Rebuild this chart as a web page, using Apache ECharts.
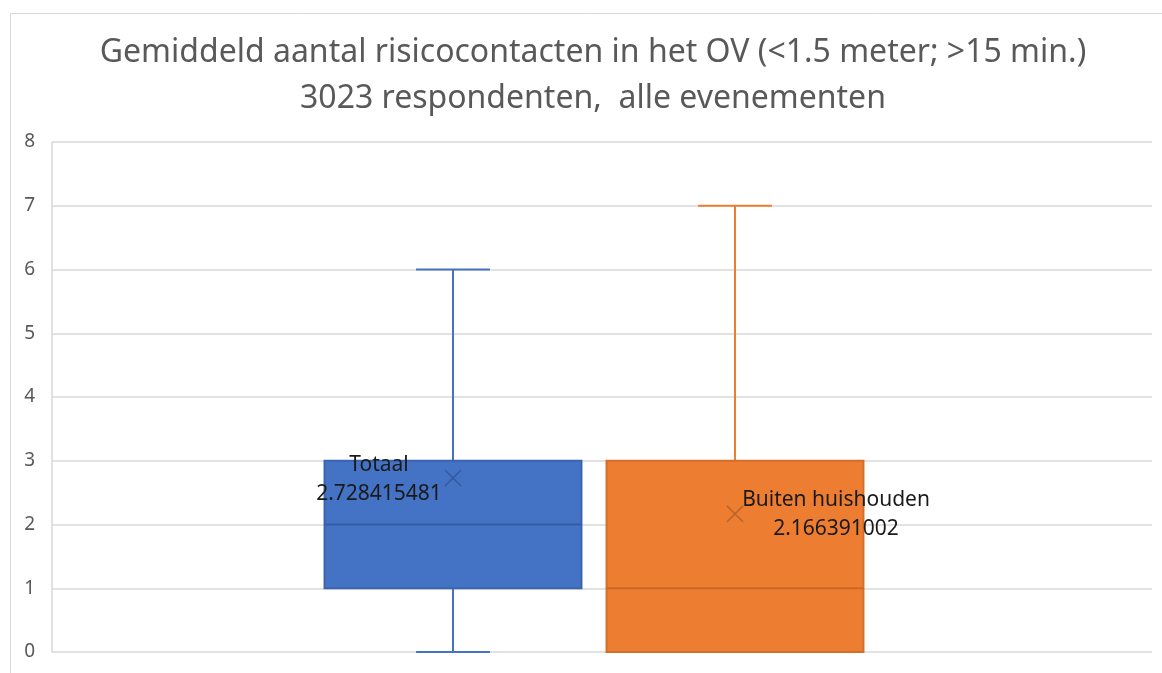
<!DOCTYPE html>
<html>
<head>
<meta charset="utf-8">
<script src="https://cdn.jsdelivr.net/npm/echarts@6/dist/echarts.min.js"></script>
<style>
  html, body { margin: 0; padding: 0; background: #fff; }
  #chart { width: 1162px; height: 673px; }
</style>
</head>
<body>
<div id="chart"></div>
<script>
// Box-and-whisker values
const categories = ["Totaal", "Buiten huishouden"];
const minValues = [0, 0];
const q1Values = [1, 0];
const medianValues = [2, 1];
const q3Values = [3, 3];
const maxValues = [6, 7];
const meanValues = [2.728415481, 2.166391002];

const titleLines = [
  "Gemiddeld aantal risicocontacten in het OV (<1.5 meter; >15 min.)",
  "3023 respondenten,  alle evenementen",
];

// styling only
const fills = ["#4472C4", "#ED7D31"];
const strokes = ["#3A64B0", "#D46E2A"];
const medianStrokes = ["#355CA3", "#C8692A"];
const meanStrokes = ["#35599A", "#B9652B"];
const labelOffsets = [[-74, 1], [101, 1]];

const FONT = "'Noto Sans', 'Open Sans', sans-serif";

const boxData = categories.map((name, i) => [
  i, minValues[i], q1Values[i], medianValues[i], q3Values[i], maxValues[i], meanValues[i],
]);

function renderBox(params, api) {
  const i = api.value(0);
  const band = api.size([1, 0])[0];
  const boxW = band * 0.911;
  const capW = band * 0.262;
  const cx = api.coord([i, 0])[0];
  const yMin = api.coord([i, api.value(1)])[1];
  const yQ1 = api.coord([i, api.value(2)])[1];
  const yMed = api.coord([i, api.value(3)])[1];
  const yQ3 = api.coord([i, api.value(4)])[1];
  const yMax = api.coord([i, api.value(5)])[1];
  const mean = api.value(6);
  const yMean = api.coord([i, mean])[1];
  const stroke = strokes[i];
  const ms = 8;
  const off = labelOffsets[i];
  const whisker = { stroke: fills[i], lineWidth: 2 };
  return {
    type: "group",
    children: [
      { type: "line", shape: { x1: cx, y1: yQ3, x2: cx, y2: yMax }, style: whisker },
      { type: "line", shape: { x1: cx, y1: yQ1, x2: cx, y2: yMin }, style: whisker },
      { type: "line", shape: { x1: cx - capW / 2, y1: yMax, x2: cx + capW / 2, y2: yMax }, style: whisker },
      { type: "line", shape: { x1: cx - capW / 2, y1: yMin, x2: cx + capW / 2, y2: yMin }, style: whisker },
      {
        type: "rect",
        shape: { x: cx - boxW / 2, y: yQ3, width: boxW, height: yQ1 - yQ3 },
        style: { fill: fills[i], stroke: stroke, lineWidth: 2 },
      },
      { type: "line", shape: { x1: cx - boxW / 2, y1: yMed, x2: cx + boxW / 2, y2: yMed }, style: { stroke: medianStrokes[i], lineWidth: 2 } },
      { type: "line", shape: { x1: cx - ms, y1: yMean - ms, x2: cx + ms, y2: yMean + ms }, style: { stroke: meanStrokes[i], lineWidth: 1.5 } },
      { type: "line", shape: { x1: cx - ms, y1: yMean + ms, x2: cx + ms, y2: yMean - ms }, style: { stroke: meanStrokes[i], lineWidth: 1.5 } },
      {
        type: "text",
        x: cx + off[0],
        y: yMean + off[1],
        style: {
          text: categories[i] + "\n" + String(mean),
          fill: "#1a1a1a",
          font: "21px " + FONT,
          lineHeight: 29,
          align: "center",
          verticalAlign: "middle",
        },
      },
    ],
  };
}

const chart = echarts.init(document.getElementById("chart"), null, { renderer: "canvas" });

chart.setOption({
  animation: false,
  backgroundColor: "#fff",
  graphic: [
    {
      type: "rect",
      left: 8,
      top: 11,
      shape: { width: 1170, height: 680 },
      style: { fill: "none", stroke: "#d9d9d9", lineWidth: 1 },
      silent: true,
    },
  ],
  title: {
    text: titleLines.join("\n"),
    left: 588,
    top: 25,
    textAlign: "center",
    textStyle: {
      fontFamily: FONT,
      fontWeight: "normal",
      fontSize: 32,
      lineHeight: 46,
      color: "#595959",
    },
  },
  grid: [
    { left: 52, right: 10, top: 142, bottom: 21 },
    { left: 312, right: 286, top: 142, bottom: 21 },
  ],
  xAxis: [
    { type: "category", gridIndex: 0, data: [""], show: false },
    { type: "category", gridIndex: 1, data: categories, show: false },
  ],
  yAxis: [
    {
      type: "value",
      gridIndex: 0,
      min: 0,
      max: 8,
      interval: 1,
      axisLine: { show: true, lineStyle: { color: "#d9d9d9", width: 1.5 } },
      axisTick: { show: false },
      axisLabel: { color: "#595959", fontSize: 19, fontFamily: FONT, margin: 17 },
      splitLine: { lineStyle: { color: "#d9d9d9", width: 1.5 } },
    },
    { type: "value", gridIndex: 1, min: 0, max: 8, interval: 1, show: false, splitLine: { show: false } },
  ],
  series: [
    {
      type: "custom",
      xAxisIndex: 1,
      yAxisIndex: 1,
      renderItem: renderBox,
      encode: { x: 0, y: [1, 5] },
      data: boxData,
      clip: false,
    },
  ],
});
</script>
</body>
</html>
